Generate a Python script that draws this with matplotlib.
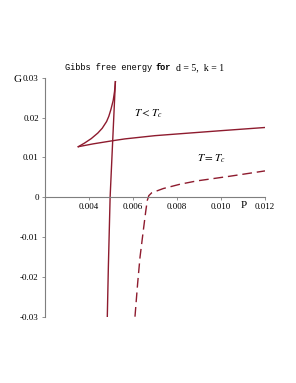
import matplotlib
matplotlib.use("Agg")
import matplotlib.pyplot as plt

# Swallowtail (T < Tc): upper branch from cusp to the top
upper_P = [0.003514, 0.0038, 0.0041, 0.0044, 0.0046, 0.0048, 0.0049, 0.0050, 0.00510, 0.00516, 0.00520]
upper_G = [0.01268, 0.0136, 0.0147, 0.0161, 0.0173, 0.0190, 0.0203, 0.0221, 0.0243, 0.0265, 0.0290]
# near-vertical branch from the top down to the bottom
vert_P = [0.00520, 0.005077, 0.00496, 0.00488, 0.004832]
vert_G = [0.0290, 0.01418, 0.0, -0.0175, -0.0300]
# lower branch from cusp to the right edge
lower_P = [0.003514, 0.004200, 0.005077, 0.005636, 0.00700, 0.008286, 0.01000, 0.01200]
lower_G = [0.01268, 0.01340, 0.01418, 0.01464, 0.01545, 0.01599, 0.01670, 0.01750]
# T = Tc (dashed)
crit_P = [0.00609, 0.00621, 0.00632, 0.00647, 0.00658, 0.00665, 0.00672, 0.00685, 0.00738, 0.00814,
          0.00890, 0.01041, 0.01200]
crit_G = [-0.0300, -0.0217, -0.0150, -0.0083, -0.0035, -0.0008, 0.0004, 0.0011, 0.00218, 0.00326,
          0.00409, 0.00527, 0.00660]

x_ticks = [0.004, 0.006, 0.008, 0.010, 0.012]
x_tick_labels = ["0.004", "0.006", "0.008", "0.010", "0.012"]
y_ticks = [-0.03, -0.02, -0.01, 0, 0.01, 0.02, 0.03]
y_tick_labels = ["-0.03", "-0.02", "-0.01", "0", "0.01", "0.02", "0.03"]

color = "#8E1B2E"
axis_col = "#7f7f7f"
serif = ["Liberation Serif", "DejaVu Serif"]
mono = ["Liberation Mono", "DejaVu Sans Mono"]

fig = plt.figure(figsize=(2.96, 3.83), dpi=100)
ax = fig.add_axes([45 / 296, 1 - 316.7 / 383, 220 / 296, 239 / 383])

ax.plot(upper_P, upper_G, color=color, lw=1.0)
ax.plot(vert_P, vert_G, color=color, lw=1.0)
ax.plot(lower_P, lower_G, color=color, lw=1.0)
ax.plot(crit_P, crit_G, color=color, lw=1.0, dashes=(7, 3.5))

ax.set_xlim(0.002, 0.012)
ax.set_ylim(-0.03, 0.03)

for s in ["top", "right"]:
    ax.spines[s].set_visible(False)
ax.spines["bottom"].set_position(("data", 0))
ax.spines["left"].set_position(("data", 0.002))
ax.spines["bottom"].set_color(axis_col)
ax.spines["left"].set_color(axis_col)
ax.spines["bottom"].set_linewidth(0.8)
ax.spines["left"].set_linewidth(0.8)

ax.set_xticks(x_ticks)
ax.set_xticklabels(x_tick_labels, family=serif, fontsize=6.5)
ax.set_yticks(y_ticks)
ax.set_yticklabels(y_tick_labels, family=serif, fontsize=6.5)
ax.tick_params(axis="both", length=2.5, width=0.6, color=axis_col, pad=2)

ax.text(0.01105, -0.0022, "P", family=serif, fontsize=8, ha="center", va="center")
fig.text(17 / 296, 1 - 80 / 383, "G", family=serif, fontsize=8, ha="center", va="center")

ax.text(0.00605, 0.0210, r"$T < T_c$", fontsize=8, ha="left", va="center",
        math_fontfamily="stix")
ax.text(0.0089, 0.0097, r"$T = T_c$", fontsize=8, ha="left", va="center",
        math_fontfamily="stix")

ty = 1 - 67.5 / 383
fig.text(65 / 296, ty, "Gibbs free energy", family=mono, fontsize=6.2, ha="left", va="center")
fig.text(155 / 296, ty, "for", family=mono, fontsize=6.2, weight="bold", ha="left", va="center")
fig.text(175.5 / 296, ty, "d = 5,  k = 1", family=serif, fontsize=7.0, ha="left", va="center")

fig.savefig("out.png", dpi=100)
